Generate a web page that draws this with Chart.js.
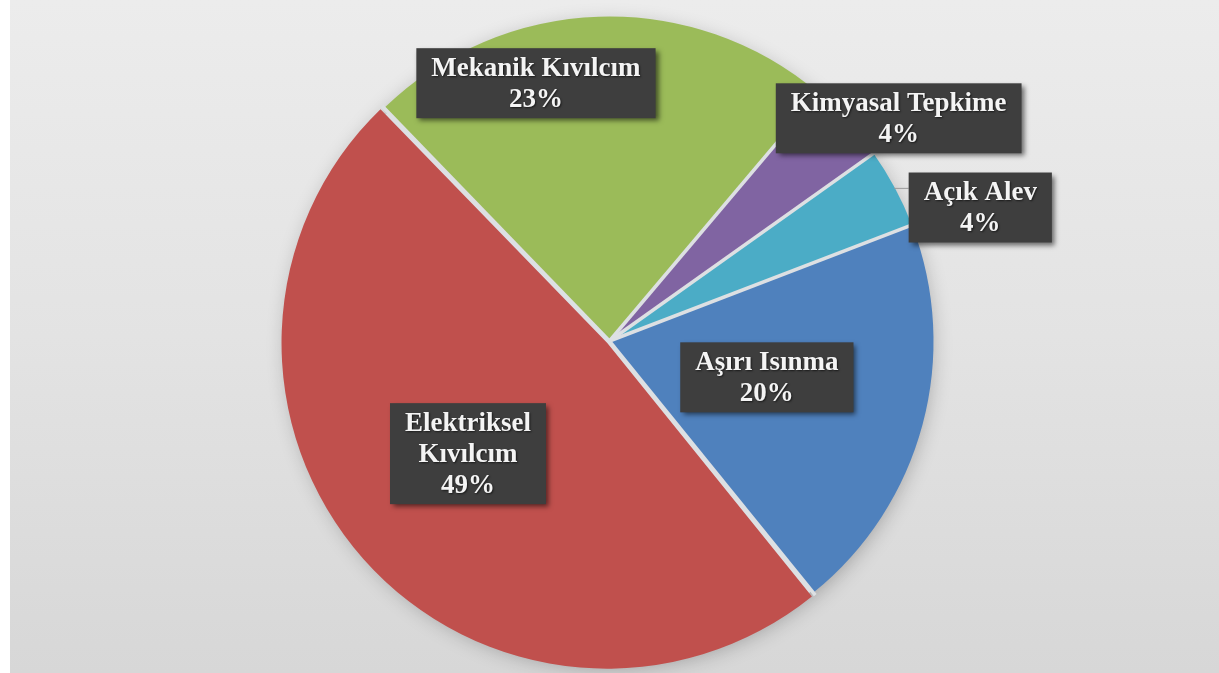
<!DOCTYPE html>
<html lang="tr">
<head>
<meta charset="utf-8">
<script src="https://cdn.jsdelivr.net/npm/chart.js@4.4.1/dist/chart.umd.min.js"></script>
<style>
    html, body { margin: 0; padding: 0; }
    body {
        width: 1219px;
        height: 673px;
        overflow: hidden;
        background: #ffffff;
    }
    #kutu {
        position: absolute;
        left: 10px;
        top: 0;
        width: 1209px;
        height: 673px;
        background: linear-gradient(180deg, #ececec 0%, #e3e3e3 50%, #d7d7d7 100%);
    }
    #grafik { position: absolute; left: 0; top: 0; }
</style>
</head>
<body>
<div id="kutu"></div>
<canvas id="grafik" width="1219" height="673"></canvas>
<script>
// Veriler (yüzde)
const kategoriler = ['Aşırı Isınma', 'Elektriksel Kıvılcım', 'Mekanik Kıvılcım', 'Kimyasal Tepkime', 'Açık Alev'];
const degerler = [20, 48.6, 23.4, 4, 4];
const etiketSatirlari = [
    ['Aşırı Isınma'],
    ['Elektriksel', 'Kıvılcım'],
    ['Mekanik Kıvılcım'],
    ['Kimyasal Tepkime'],
    ['Açık Alev']
];
const renkler = ['#4f81bd', '#c0504d', '#9bbb59', '#8064a2', '#4bacc6'];
const ayrilma = [4, 12, 6, 2, 2];

// Etiket yerleşimi: dilim ortasına göre açı kayması (derece) ve yarıçap oranı
const etiketAciKaymasi = [-2, 3, -14, 5, 8.4];
const etiketYaricap = [0.50, 0.56, 0.83, 1.13, 1.22];
const etiketCizgisi = [false, false, false, false, true];

const YARICAP = 323;
const ARALIK_RENGI = '#dde0e3';

// Pastanın arkasındaki gölge (dilim aralarında açık renk görünür)
const golgeEklentisi = {
    id: 'golge',
    beforeDatasetsDraw(chart) {
        const arc = chart.getDatasetMeta(0).data[0];
        const ctx = chart.ctx;
        ctx.save();
        ctx.beginPath();
        ctx.arc(arc.x, arc.y + 2, YARICAP - 3, 0, Math.PI * 2);
        ctx.shadowColor = 'rgba(0,0,0,0.33)';
        ctx.shadowBlur = 22;
        ctx.shadowOffsetY = 3;
        ctx.fillStyle = ARALIK_RENGI;
        ctx.fill();
        ctx.restore();
    }
};

// Dilim sınırlarındaki açık renkli aralıklar
const aralikEklentisi = {
    id: 'araliklar',
    afterDatasetsDraw(chart) {
        const ctx = chart.ctx;
        const meta = chart.getDatasetMeta(0);
        ctx.save();
        ctx.strokeStyle = ARALIK_RENGI;
        ctx.lineWidth = 3.5;
        meta.data.forEach(arc => {
            const r = arc.outerRadius + 4;
            ctx.beginPath();
            ctx.moveTo(arc.x, arc.y);
            ctx.lineTo(arc.x + Math.cos(arc.startAngle) * r, arc.y + Math.sin(arc.startAngle) * r);
            ctx.stroke();
        });
        ctx.restore();
    }
};

// Koyu kutulu veri etiketleri
const etiketEklentisi = {
    id: 'etiketler',
    afterDatasetsDraw(chart) {
        const ctx = chart.ctx;
        const meta = chart.getDatasetMeta(0);
        const toplam = degerler.reduce((a, b) => a + b, 0);
        const satirY = 31;
        const padX = 15;
        const padY = 4;

        ctx.save();
        ctx.font = 'bold 27px "Liberation Serif"';
        ctx.textAlign = 'center';
        ctx.textBaseline = 'middle';

        meta.data.forEach((arc, i) => {
            const yuzde = Math.round(degerler[i] / toplam * 100) + '%';
            const satirlar = etiketSatirlari[i].concat([yuzde]);
            const orta = (arc.startAngle + arc.endAngle) / 2;
            const aci = orta + etiketAciKaymasi[i] * Math.PI / 180;
            const r = arc.outerRadius * etiketYaricap[i];
            const cx = arc.x + Math.cos(aci) * r;
            const cy = arc.y + Math.sin(aci) * r;

            const genislik = Math.max(...satirlar.map(s => ctx.measureText(s).width)) + padX * 2;
            const yukseklik = satirlar.length * satirY + padY * 2;
            const x0 = cx - genislik / 2;
            const y0 = cy - yukseklik / 2;

            if (etiketCizgisi[i]) {
                const px = arc.x + Math.cos(orta) * arc.outerRadius;
                const py = arc.y + Math.sin(orta) * arc.outerRadius;
                ctx.beginPath();
                ctx.moveTo(px, py);
                ctx.lineTo(x0, py);
                ctx.strokeStyle = '#9a9a9a';
                ctx.lineWidth = 1;
                ctx.stroke();
            }

            ctx.save();
            ctx.shadowColor = 'rgba(0,0,0,0.55)';
            ctx.shadowBlur = 5;
            ctx.shadowOffsetX = 3;
            ctx.shadowOffsetY = 3;
            ctx.fillStyle = '#3e3e3e';
            ctx.fillRect(x0, y0, genislik, yukseklik);
            ctx.restore();

            ctx.save();
            ctx.shadowColor = 'rgba(0,0,0,0.6)';
            ctx.shadowBlur = 2;
            ctx.shadowOffsetX = 1;
            ctx.shadowOffsetY = 1;
            ctx.fillStyle = '#f4f4f4';
            satirlar.forEach((s, k) => {
                ctx.fillText(s, cx, y0 + padY + satirY * (k + 0.5) + 1);
            });
            ctx.restore();
        });
        ctx.restore();
    }
};

new Chart(document.getElementById('grafik'), {
    type: 'pie',
    data: {
        labels: kategoriler,
        datasets: [{
            data: degerler,
            backgroundColor: renkler,
            borderWidth: 0,
            offset: ayrilma
        }]
    },
    options: {
        responsive: false,
        animation: false,
        rotation: 69,
        radius: YARICAP,
        layout: { padding: { top: 9, bottom: 0 } },
        events: [],
        plugins: {
            legend: { display: false },
            tooltip: { enabled: false }
        }
    },
    plugins: [golgeEklentisi, aralikEklentisi, etiketEklentisi]
});
</script>
</body>
</html>
